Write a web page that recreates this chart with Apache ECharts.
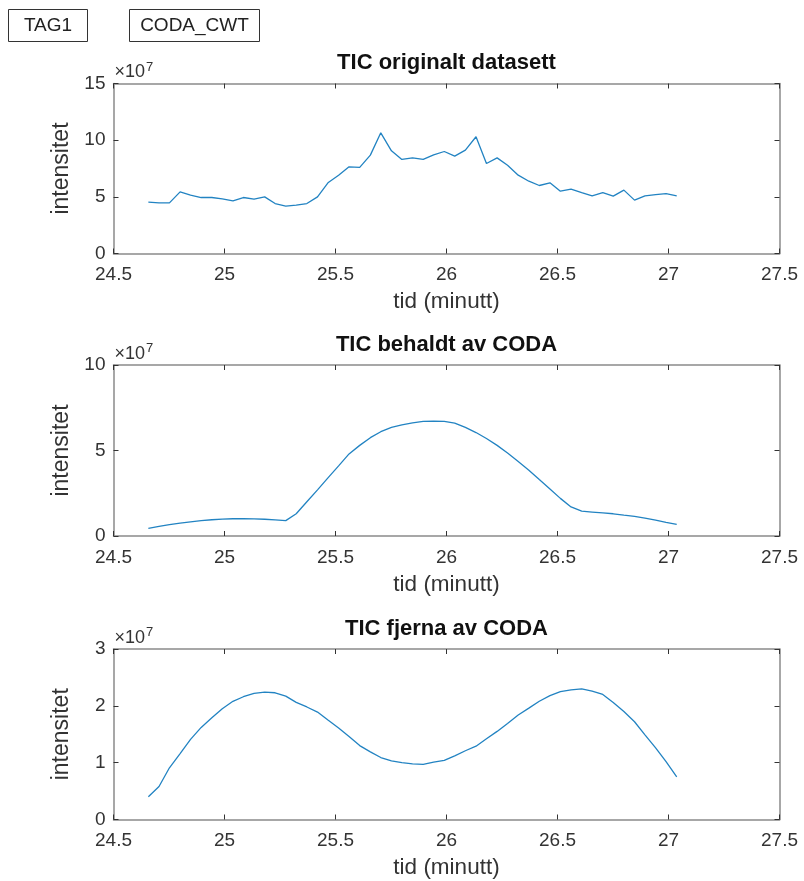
<!DOCTYPE html>
<html>
<head>
<meta charset="utf-8">
<script src="https://cdn.jsdelivr.net/npm/echarts@6/dist/echarts.min.js"></script>
<style>
html,body{margin:0;padding:0;background:#fff;}
#c{width:804px;height:881px;}
</style>
</head>
<body>
<div id="c"></div>
<script>
// time (minutes)
const tid = [24.657, 24.705, 24.752, 24.800, 24.847, 24.895, 24.943, 24.990, 25.038, 25.085,
  25.133, 25.181, 25.228, 25.276, 25.323, 25.371, 25.419, 25.466, 25.514, 25.561,
  25.609, 25.657, 25.704, 25.752, 25.799, 25.847, 25.895, 25.942, 25.990, 26.037,
  26.085, 26.133, 26.180, 26.228, 26.275, 26.323, 26.371, 26.418, 26.466, 26.513,
  26.561, 26.609, 26.656, 26.704, 26.751, 26.799, 26.847, 26.894, 26.942, 26.989, 27.037];

// intensity (x 1e7)
const ticOriginal = [4.53, 4.47, 4.47, 5.44, 5.15, 4.94, 4.94, 4.82, 4.65, 4.94,
  4.80, 5.00, 4.41, 4.18, 4.26, 4.41, 5.00, 6.24, 6.90, 7.65,
  7.60, 8.68, 10.65, 9.06, 8.30, 8.44, 8.30, 8.70, 9.00, 8.59,
  9.12, 10.30, 7.94, 8.44, 7.79, 6.91, 6.38, 6.00, 6.24, 5.50,
  5.68, 5.38, 5.09, 5.38, 5.06, 5.59, 4.71, 5.09, 5.20, 5.29, 5.09];

const ticBehaldt = [0.45, 0.56, 0.66, 0.75, 0.83, 0.90, 0.95, 0.99, 1.01, 1.01,
  1.00, 0.98, 0.94, 0.90, 1.30, 2.00, 2.70, 3.40, 4.10, 4.80,
  5.30, 5.75, 6.10, 6.35, 6.50, 6.62, 6.70, 6.72, 6.70, 6.60,
  6.35, 6.05, 5.70, 5.30, 4.85, 4.35, 3.85, 3.30, 2.75, 2.20,
  1.70, 1.45, 1.40, 1.35, 1.30, 1.22, 1.15, 1.05, 0.93, 0.80, 0.68];

const ticFjerna = [0.40, 0.58, 0.91, 1.16, 1.41, 1.62, 1.79, 1.95, 2.08, 2.16,
  2.22, 2.24, 2.23, 2.17, 2.06, 1.98, 1.89, 1.75, 1.61, 1.46,
  1.30, 1.19, 1.09, 1.03, 1.00, 0.98, 0.97, 1.01, 1.04, 1.12,
  1.21, 1.29, 1.42, 1.55, 1.69, 1.84, 1.96, 2.08, 2.18, 2.25,
  2.28, 2.30, 2.26, 2.20, 2.06, 1.90, 1.72, 1.49, 1.26, 1.02, 0.75];

const titles = ['TIC originalt datasett', 'TIC behaldt av CODA', 'TIC fjerna av CODA'];
const yMax = [15, 10, 3];
const yStep = [5, 5, 1];
const xMin = 24.5, xMax = 27.5, xStep = 0.5;
const xName = 'tid (minutt)';
const yName = 'intensitet';
const tags = ['TAG1', 'CODA_CWT'];

const seriesData = [ticOriginal, ticBehaldt, ticFjerna];

const FONT = '"Liberation Sans", Arial, Helvetica, sans-serif';
const gridTops = [83.5, 365, 649];
const gridH = [170, 171, 170.5];
const gLeft = 113.5, gWidth = 666;

const chart = echarts.init(document.getElementById('c'), null, {renderer: 'canvas'});

const grids = [], xAxes = [], yAxes = [], series = [], graphics = [];
const axisLineStyle = {color: '#8a8a8a', width: 1.5};
const tickStyle = {color: '#333', width: 1};

for (let i = 0; i < 3; i++) {
  grids.push({left: gLeft, top: gridTops[i], width: gWidth, height: gridH[i], containLabel: false});
  xAxes.push({
    type: 'value', gridIndex: i, min: xMin, max: xMax, interval: xStep, position: 'bottom',
    name: xName, nameLocation: 'middle', nameGap: 37,
    nameTextStyle: {fontFamily: FONT, fontSize: 22.5, color: '#333'},
    axisLine: {show: true, onZero: false, lineStyle: axisLineStyle},
    axisTick: {show: true, inside: true, length: 5, lineStyle: tickStyle},
    axisLabel: {fontFamily: FONT, fontSize: 19, color: '#333', margin: 12},
    splitLine: {show: false}
  });
  xAxes.push({
    type: 'value', gridIndex: i, min: xMin, max: xMax, interval: xStep, position: 'top',
    axisLine: {show: true, onZero: false, lineStyle: axisLineStyle},
    axisTick: {show: true, inside: true, length: 5, lineStyle: tickStyle},
    axisLabel: {show: false}, splitLine: {show: false}
  });
  yAxes.push({
    type: 'value', gridIndex: i, min: 0, max: yMax[i], interval: yStep[i], position: 'left',
    name: yName, nameLocation: 'middle', nameGap: 40, nameRotate: 90,
    nameTextStyle: {fontFamily: FONT, fontSize: 23, color: '#333'},
    axisLine: {show: true, onZero: false, lineStyle: axisLineStyle},
    axisTick: {show: true, inside: true, length: 5, lineStyle: tickStyle},
    axisLabel: {fontFamily: FONT, fontSize: 19, color: '#333', margin: 8},
    splitLine: {show: false}
  });
  yAxes.push({
    type: 'value', gridIndex: i, min: 0, max: yMax[i], interval: yStep[i], position: 'right',
    axisLine: {show: true, onZero: false, lineStyle: axisLineStyle},
    axisTick: {show: true, inside: true, length: 5, lineStyle: tickStyle},
    axisLabel: {show: false}, splitLine: {show: false}
  });
  series.push({
    type: 'line', xAxisIndex: 2 * i, yAxisIndex: 2 * i,
    data: tid.map((t, k) => [t, seriesData[i][k]]),
    showSymbol: false, symbol: 'none', silent: true, animation: false,
    lineStyle: {color: '#2283c2', width: 1.3}
  });
  graphics.push({
    type: 'text', x: gLeft + gWidth / 2, y: gridTops[i] - 20.5, silent: true,
    style: {text: titles[i], align: 'center', verticalAlign: 'middle',
      font: 'bold 22px ' + FONT, fill: '#111'}
  });
  graphics.push({
    type: 'text', x: gLeft + 1, y: gridTops[i] - 2, silent: true,
    style: {text: '{a|×10}{b|7}', align: 'left', verticalAlign: 'bottom',
      rich: {
        a: {fontFamily: FONT, fontSize: 18, fill: '#333', color: '#333', verticalAlign: 'bottom'},
        b: {fontFamily: FONT, fontSize: 13, fill: '#333', color: '#333', verticalAlign: 'top', padding: [0, 0, 8, 1]}
      }}
  });
}

// top-left tag boxes
const boxX = [8, 129], boxW = [79, 130];
for (let j = 0; j < tags.length; j++) {
  graphics.push({
    type: 'rect', shape: {x: boxX[j] + 0.5, y: 9.5, width: boxW[j], height: 32}, silent: true,
    style: {fill: '#fff', stroke: '#333', lineWidth: 1}
  });
  graphics.push({
    type: 'text', x: boxX[j] + boxW[j] / 2 + 0.5, y: 26, silent: true,
    style: {text: tags[j], align: 'center', verticalAlign: 'middle',
      font: '19px ' + FONT, fill: '#222'}
  });
}

chart.setOption({
  animation: false,
  backgroundColor: '#fff',
  grid: grids, xAxis: xAxes, yAxis: yAxes, series: series,
  graphic: graphics
});
</script>
</body>
</html>
